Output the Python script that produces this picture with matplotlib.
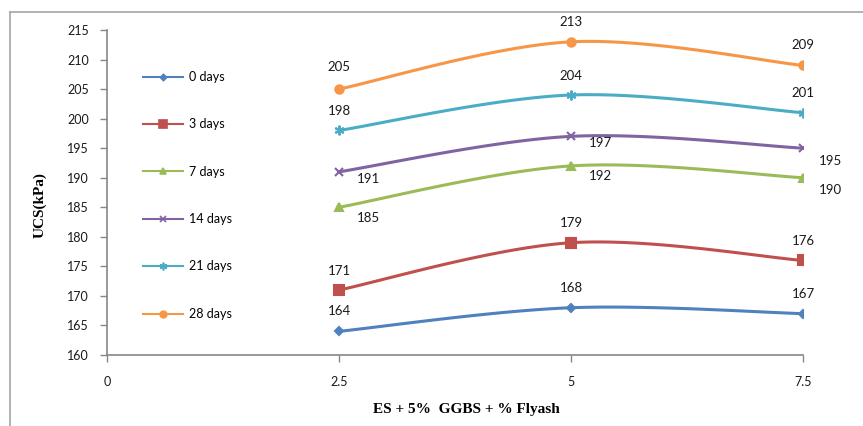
import matplotlib
matplotlib.use("Agg")
import matplotlib.pyplot as plt
import numpy as np
from matplotlib.lines import Line2D

# data
flyash = [2.5, 5, 7.5]
series_names = ["0 days", "3 days", "7 days", "14 days", "21 days", "28 days"]
ucs_0 = [164, 168, 167]
ucs_3 = [171, 179, 176]
ucs_7 = [185, 192, 190]
ucs_14 = [191, 197, 195]
ucs_21 = [198, 204, 201]
ucs_28 = [205, 213, 209]
y_ticks = list(range(160, 216, 5))
x_ticks = [0, 2.5, 5, 7.5]

colors = ["#4F81BD", "#C0504D", "#9BBB59", "#8064A2", "#4BACC6", "#F79646"]
markers = ["D", "s", "^", "x", (6, 2, 0), "o"]
msizes = [4, 7, 6, 6, 7, 6]
# label offsets in points (dx, dy) per series / point
offsets = [
    [(0, 15), (0, 14), (0, 14)],
    [(0, 14), (0, 14), (0, 14)],
    [(21, -8), (21, -7), (20, -9)],
    [(21, -5), (21, -5), (20, -9)],
    [(0, 14), (0, 14), (0, 14)],
    [(0, 16), (0, 14), (0, 15)],
]


def smooth(x, y, n=40):
    # excel-like bezier smoothing through the points
    x = np.asarray(x, float)
    y = np.asarray(y, float)
    P = np.column_stack([x, y])
    Pe = np.vstack([P[0], P, P[-1]])
    out = []
    t = np.linspace(0, 1, n)[:, None]
    for i in range(len(P) - 1):
        p0 = Pe[i + 1]
        p3 = Pe[i + 2]
        c1 = p0 + (Pe[i + 2] - Pe[i]) / 6
        c2 = p3 - (Pe[i + 3] - Pe[i + 1]) / 6
        seg = ((1 - t) ** 3) * p0 + 3 * ((1 - t) ** 2) * t * c1 + 3 * (1 - t) * t ** 2 * c2 + t ** 3 * p3
        out.append(seg)
    s = np.vstack(out)
    return s[:, 0], s[:, 1]


fig = plt.figure(figsize=(8.63, 4.26), dpi=100)
ax = fig.add_axes([107 / 863, 1 - 355 / 426, (803 - 107) / 863, (355 - 30) / 426])

all_series = [ucs_0, ucs_3, ucs_7, ucs_14, ucs_21, ucs_28]
for k, vals in enumerate(all_series):
    sx, sy = smooth(flyash, vals)
    ax.plot(sx, sy, color=colors[k], lw=2.2, solid_capstyle="round")
    ax.plot(flyash, vals, ls="none", marker=markers[k], ms=msizes[k],
            color=colors[k], mec=colors[k], mew=1.5)
    for j, v in enumerate(vals):
        ax.annotate(str(v), (flyash[j], v), xytext=offsets[k][j], textcoords="offset points",
                    ha="center", va="center", fontsize=9.5, family="Lato", color="#1a1a1a")

handles = [Line2D([0], [0], color=colors[k], lw=1.5, marker=markers[k],
                  ms=msizes[k] * 0.8, mew=1.2) for k in range(6)]
fig.legend(handles, series_names, loc="upper left", bbox_to_anchor=(143 / 863, 1 - 71 / 426),
           frameon=False, prop={"family": "Lato", "size": 9}, labelspacing=2.83,
           handlelength=3.2, handletextpad=0.5, borderpad=0, borderaxespad=0)

ax.set_xlim(0, 7.5)
ax.set_ylim(160, 215)
ax.set_xticks(x_ticks)
ax.set_xticklabels(["0", "2.5", "5", "7.5"])
ax.set_yticks(y_ticks)
for lab in ax.get_xticklabels() + ax.get_yticklabels():
    lab.set_family("Lato")
    lab.set_fontsize(9)
    lab.set_color("#1a1a1a")
ax.tick_params(axis="both", direction="out", length=5, color="#868686", width=1)
ax.tick_params(axis="x", pad=10)
ax.tick_params(axis="y", pad=8)
for sp in ["top", "right"]:
    ax.spines[sp].set_visible(False)
for sp in ["left", "bottom"]:
    ax.spines[sp].set_color("#868686")
    ax.spines[sp].set_linewidth(1.2)

fig.text(40 / 863, 1 - 205 / 426, "UCS(kPa)", rotation=90, ha="center", va="center",
         family="Liberation Serif", fontweight="bold", fontsize=11)
fig.text(466 / 863, 1 - 410 / 426, "ES + 5%  GGBS + % Flyash", ha="center", va="center",
         family="Liberation Serif", fontweight="bold", fontsize=11)

# outer chart frame
fig.add_artist(Line2D([10 / 863, 1], [1 - 12 / 426, 1 - 12 / 426], color="#a6a6a6", lw=1.2))
fig.add_artist(Line2D([10 / 863, 10 / 863], [0, 1 - 12 / 426], color="#a6a6a6", lw=1.2))

fig.savefig("out.png", dpi=100)
